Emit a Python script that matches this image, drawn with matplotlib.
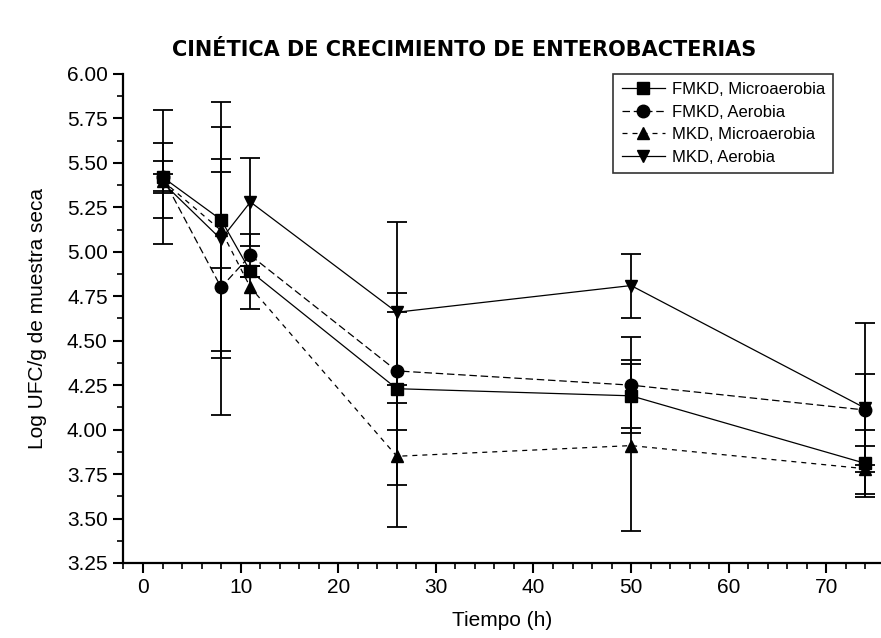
import matplotlib
matplotlib.use("Agg")
import matplotlib.pyplot as plt
from matplotlib.lines import Line2D
from matplotlib.ticker import MultipleLocator, FormatStrFormatter

plt.rcParams['font.family'] = ['Liberation Sans', 'DejaVu Sans']

# sampling times (h)
tiempo = [2, 8, 11, 26, 50, 74]

# Log UFC/g per treatment, with error bars
fmkd_micro = [5.42, 5.18, 4.89, 4.23, 4.19, 3.81]
fmkd_micro_err = [0.09, 0.27, 0.03, 0.54, 0.18, 0.19]

fmkd_aer = [5.42, 4.80, 4.98, 4.33, 4.25, 4.11]
fmkd_aer_err = [0.375, 0.72, 0.12, 0.33, 0.27, 0.20]

mkd_micro = [5.40, 5.12, 4.80, 3.85, 3.91, 3.78]
mkd_micro_err = [0.21, 0.72, 0.12, 0.40, 0.48, 0.02]

mkd_aer = [5.39, 5.07, 5.28, 4.66, 4.81, 4.12]
mkd_aer_err = [0.05, 0.63, 0.25, 0.51, 0.18, 0.48]

series = [
    ('FMKD, Microaerobia', fmkd_micro, fmkd_micro_err, 's', '-'),
    ('FMKD, Aerobia', fmkd_aer, fmkd_aer_err, 'o', (0, (6, 3))),
    ('MKD, Microaerobia', mkd_micro, mkd_micro_err, '^', (0, (4, 4))),
    ('MKD, Aerobia', mkd_aer, mkd_aer_err, 'v', '-'),
]

fig = plt.figure(figsize=(8.81, 6.38), dpi=100)
ax = fig.add_axes([0.1396, 0.1176, 0.8604, 0.7665])

handles = []
for name, vals, err, mk, ls in series:
    ax.errorbar(tiempo, vals, yerr=err, color='black', marker=mk, markersize=9,
                linestyle=ls, linewidth=0.9, elinewidth=1.3, capsize=7,
                capthick=1.3)
    # legend entry: line + marker only, no error bar
    handles.append(Line2D([], [], color='black', marker=mk, markersize=9,
                          linestyle=ls, linewidth=0.9, label=name))

ax.set_xlim(-2.05, 75.6)
ax.set_ylim(3.25, 6.0)
ax.xaxis.set_major_locator(MultipleLocator(10))
ax.xaxis.set_minor_locator(MultipleLocator(2))
ax.yaxis.set_major_locator(MultipleLocator(0.25))
ax.yaxis.set_minor_locator(MultipleLocator(0.125))
ax.yaxis.set_major_formatter(FormatStrFormatter('%.2f'))

for side in ['top', 'right']:
    ax.spines[side].set_visible(False)
for side in ['left', 'bottom']:
    ax.spines[side].set_linewidth(1.6)
ax.tick_params(which='major', direction='out', length=7, width=1.5, labelsize=15, pad=4)
ax.tick_params(which='minor', direction='out', length=4, width=1.2)

ax.set_xlabel('Tiempo (h)', fontsize=15, labelpad=10)
ax.set_ylabel('Log UFC/g de muestra seca', fontsize=15, labelpad=14)

fig.text(0.527, 0.922, 'CINÉTICA DE CRECIMIENTO DE ENTEROBACTERIAS',
         ha='center', va='center', fontsize=15, fontweight='heavy',
         family=['DejaVu Sans'])

leg = ax.legend(handles=handles, loc='upper right', bbox_to_anchor=(0.937, 1.0),
                borderaxespad=0, fontsize=12, frameon=True, fancybox=False,
                handlelength=2.6, handletextpad=0.4, labelspacing=0.45,
                borderpad=0.5)
leg.get_frame().set_edgecolor('black')
leg.get_frame().set_linewidth(1.2)

fig.savefig('out.png', dpi=100)
